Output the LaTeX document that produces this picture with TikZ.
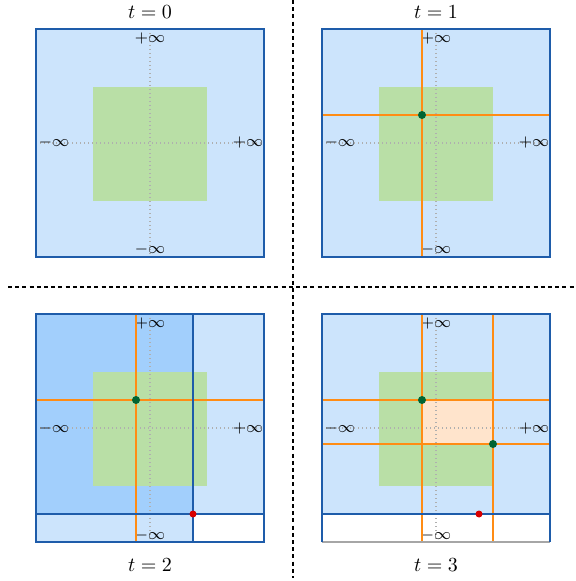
\documentclass[tikz,border=0pt]{standalone}
\begin{document}
\begin{tikzpicture}[x=0.5pt,y=-0.5pt]
\definecolor{lblue}{RGB}{204,228,252}
\definecolor{dblue}{RGB}{162,207,252}
\definecolor{bord}{RGB}{30,92,170}
\definecolor{lgreen}{RGB}{185,223,166}
\definecolor{peach}{RGB}{255,228,204}
\definecolor{oran}{RGB}{255,140,20}
\definecolor{dgreen}{RGB}{0,100,50}
\definecolor{axisgray}{RGB}{175,175,175}
\tikzset{
  boxfill/.style={fill=lblue},
  greenfill/.style={fill=lgreen},
  axisline/.style={draw=axisgray,line width=0.6pt,dash pattern=on 0.6pt off 1.4pt},
  border/.style={draw=bord,line width=0.8pt},
  orangeline/.style={draw=oran,line width=1pt},
  thinorange/.style={draw=oran,line width=0.65pt},
  gdot/.style={circle,fill=dgreen,inner sep=0pt,minimum size=4pt},
  rdot/.style={circle,fill=red!85!black,inner sep=0pt,minimum size=3.5pt},
  inflab/.style={font=\footnotesize,inner sep=0pt},
  title/.style={inner sep=0pt},
  sep/.style={draw=black,line width=0.7pt,dash pattern=on 2pt off 1.6pt}
}
\useasboundingbox (0,0) rectangle (575,581);
% separators
\draw[sep] (8,287) -- (574,287);
\draw[sep] (293,0) -- (293,578);

% ---------- panel t=0 ----------
\begin{scope}[shift={(36,29)}]
  \fill[boxfill] (0,0) rectangle (228,228);
  \fill[greenfill] (57,58) rectangle (171,172);
  \draw[axisline] (114,0) -- (114,228);
  \draw[axisline] (0,114) -- (228,114);
  \draw[border] (0,0) rectangle (228,228);
  \node[inflab] (a0t) at (114,10) {$+\infty$};
  \node[inflab] (a0b) at (114,221) {$-\infty$};
  \node[inflab] (a0l) at (18,114) {$-\infty$};
  \node[inflab] (a0r) at (212,114) {$+\infty$};
  \node[title] (t0) at (114,-17) {$t=0$};
\end{scope}

% ---------- panel t=1 ----------
\begin{scope}[shift={(322,29)}]
  \fill[boxfill] (0,0) rectangle (228,228);
  \fill[greenfill] (57,58) rectangle (171,172);
  \draw[axisline] (114,0) -- (114,228);
  \draw[axisline] (0,114) -- (228,114);
  \node[inflab] (a1t) at (114,10) {$+\infty$};
  \node[inflab] (a1b) at (114,221) {$-\infty$};
  \node[inflab] (a1l) at (18,114) {$-\infty$};
  \node[inflab] (a1r) at (212,114) {$+\infty$};
  \coordinate (o1t) at (100,0);
  \coordinate (o1b) at (100,228);
  \coordinate (o1l) at (0,86);
  \coordinate (o1r) at (228,86);
  \draw[orangeline] (o1t) -- (o1b);
  \draw[orangeline] (o1l) -- (o1r);
  \node[gdot] (g1) at (100,86) {};
  \draw[border] (0,0) rectangle (228,228);
  \node[title] (t1) at (114,-17) {$t=1$};
\end{scope}

% ---------- panel t=2 ----------
\begin{scope}[shift={(36,314)}]
  \fill[boxfill] (0,0) rectangle (228,228);
  \fill[dblue] (0,0) rectangle (157,200);
  \fill[white] (157,200) rectangle (228,228);
  \fill[greenfill] (57,58) rectangle (171,172);
  \draw[axisline] (114,0) -- (114,228);
  \draw[axisline] (0,114) -- (228,114);
  \node[inflab] (a2t) at (114,10) {$+\infty$};
  \node[inflab] (a2b) at (114,221) {$-\infty$};
  \node[inflab] (a2l) at (18,114) {$-\infty$};
  \node[inflab] (a2r) at (212,114) {$+\infty$};
  \coordinate (o2t) at (100,0);
  \coordinate (o2b) at (100,228);
  \coordinate (o2l) at (0,86);
  \coordinate (o2r) at (228,86);
  \draw[orangeline] (o2t) -- (o2b);
  \draw[orangeline] (o2l) -- (o2r);
  \coordinate (b2t) at (157,0);
  \coordinate (b2b) at (157,228);
  \coordinate (b2l) at (0,200);
  \coordinate (b2r) at (228,200);
  \draw[border] (b2t) -- (b2b);
  \draw[border] (b2l) -- (b2r);
  \draw[border] (0,0) rectangle (228,228);
  \node[gdot] (g2) at (100,86) {};
  \node[rdot] (r2) at (157,200) {};
  \node[title] (t2) at (114,251) {$t=2$};
\end{scope}

% ---------- panel t=3 ----------
\begin{scope}[shift={(322,314)}]
  \fill[boxfill] (0,0) rectangle (228,200);
  \fill[white] (0,200) rectangle (228,228);
  \fill[greenfill] (57,58) rectangle (171,172);
  \fill[peach] (100,86) rectangle (171,130);
  \draw[axisline] (114,0) -- (114,228);
  \draw[axisline] (0,114) -- (228,114);
  \node[inflab] (a3t) at (114,10) {$+\infty$};
  \node[inflab] (a3b) at (114,221) {$-\infty$};
  \node[inflab] (a3l) at (18,114) {$-\infty$};
  \node[inflab] (a3r) at (212,114) {$+\infty$};
  \coordinate (o3t1) at (100,0);
  \coordinate (o3b1) at (100,228);
  \coordinate (o3t2) at (171,0);
  \coordinate (o3b2) at (171,228);
  \coordinate (o3l1) at (0,86);
  \coordinate (o3r1) at (228,86);
  \coordinate (o3l2) at (0,130);
  \coordinate (o3r2) at (228,130);
  \draw[thinorange] (o3t1) -- (o3b1);
  \draw[thinorange] (o3t2) -- (o3b2);
  \draw[thinorange] (o3l1) -- (o3r1);
  \draw[thinorange] (o3l2) -- (o3r2);
  \draw[draw=gray!70,line width=0.8pt] (0,228) -- (228,228);
  \draw[border] (0,228) -- (0,0) -- (228,0) -- (228,228);
  \draw[border] (0,200) -- (228,200);
  \node[gdot] (g3a) at (100,86) {};
  \node[gdot] (g3b) at (171,130) {};
  \node[rdot] (r3) at (157,200) {};
  \node[title] (t3) at (114,251) {$t=3$};
\end{scope}
\end{tikzpicture}
\end{document}
